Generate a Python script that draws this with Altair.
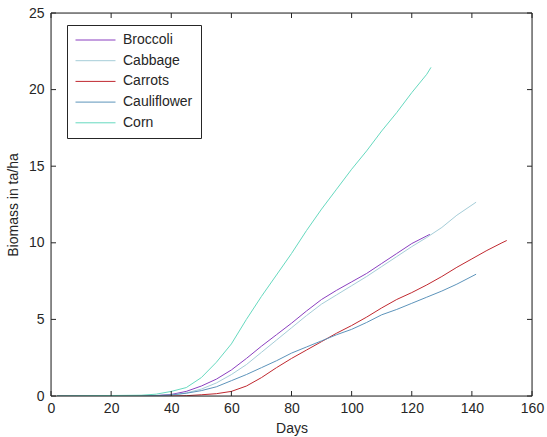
import altair as alt
import pandas as pd

series_names = ["Broccoli", "Cabbage", "Carrots", "Cauliflower", "Corn"]
series_colors = ["#8a3fc0", "#a5cdd8", "#c0282f", "#5d94bb", "#66d9bf"]

broccoli_days = [2, 30, 35, 40, 45, 50, 55, 60, 65, 70, 75, 80, 85, 90, 95, 100, 105, 110, 115, 120, 125, 126]
broccoli_vals = [0, 0.0, 0.03, 0.1, 0.3, 0.65, 1.1, 1.7, 2.45, 3.25, 4.0, 4.75, 5.55, 6.3, 6.9, 7.45, 8.0, 8.65, 9.3, 9.95, 10.45, 10.55]

cabbage_days = [2, 30, 35, 40, 45, 50, 55, 60, 65, 70, 75, 80, 85, 90, 95, 100, 105, 110, 115, 120, 125, 130, 135, 141.4]
cabbage_vals = [0, 0.0, 0.02, 0.06, 0.2, 0.45, 0.85, 1.4, 2.05, 2.85, 3.65, 4.45, 5.25, 6.0, 6.6, 7.2, 7.8, 8.45, 9.1, 9.75, 10.35, 11.0, 11.8, 12.65]

carrots_days = [2, 40, 45, 50, 55, 60, 65, 70, 75, 80, 85, 90, 95, 100, 105, 110, 115, 120, 125, 130, 135, 140, 145, 150, 151.6]
carrots_vals = [0, 0.0, 0.02, 0.08, 0.15, 0.3, 0.65, 1.2, 1.85, 2.45, 3.0, 3.55, 4.1, 4.6, 5.15, 5.75, 6.3, 6.75, 7.25, 7.8, 8.4, 8.95, 9.5, 10.0, 10.15]

cauliflower_days = [2, 35, 40, 45, 50, 55, 60, 65, 70, 75, 80, 85, 90, 95, 100, 105, 110, 115, 120, 125, 130, 135, 141.4]
cauliflower_vals = [0, 0.02, 0.07, 0.18, 0.35, 0.6, 1.0, 1.4, 1.85, 2.3, 2.8, 3.2, 3.6, 4.0, 4.35, 4.8, 5.3, 5.65, 6.05, 6.45, 6.85, 7.3, 7.95]

corn_days = [2, 30, 35, 40, 45, 50, 55, 60, 65, 70, 75, 80, 85, 90, 95, 100, 105, 110, 115, 120, 125, 126.4]
corn_vals = [0, 0.05, 0.12, 0.3, 0.55, 1.2, 2.2, 3.4, 5.0, 6.5, 7.9, 9.3, 10.8, 12.2, 13.5, 14.8, 16.0, 17.3, 18.5, 19.8, 21.0, 21.45]

x_ticks = [0, 20, 40, 60, 80, 100, 120, 140, 160]
y_ticks = [0, 5, 10, 15, 20, 25]

rows = []
for name, days, vals in [
    ("Broccoli", broccoli_days, broccoli_vals),
    ("Cabbage", cabbage_days, cabbage_vals),
    ("Carrots", carrots_days, carrots_vals),
    ("Cauliflower", cauliflower_days, cauliflower_vals),
    ("Corn", corn_days, corn_vals),
]:
    for i, (d, v) in enumerate(zip(days, vals)):
        rows.append({"series": name, "day": d, "value": v, "idx": i})
df = pd.DataFrame(rows)

W, H = 481, 383
FONT = "Liberation Sans"
TXT = "#262626"

xscale = alt.Scale(domain=[0, 160], nice=False, zero=False)
yscale = alt.Scale(domain=[0, 25], nice=False, zero=False)

lines = alt.Chart(df).mark_line(strokeWidth=1, clip=True).encode(
    x=alt.X("day:Q", scale=xscale, title="Days",
            axis=alt.Axis(values=x_ticks, tickSize=0, domain=False, grid=False,
                          labelFlush=False, labelFontSize=14, labelFont=FONT,
                          labelColor=TXT, labelPadding=5, titleFontSize=14,
                          titleFont=FONT, titleColor=TXT, titleFontWeight="normal",
                          titlePadding=6)),
    y=alt.Y("value:Q", scale=yscale, title="Biomass in ta/ha",
            axis=alt.Axis(values=y_ticks, tickSize=0, domain=False, grid=False,
                          labelFlush=False, labelFontSize=14, labelFont=FONT,
                          labelColor=TXT, labelPadding=7, titleFontSize=14,
                          titleFont=FONT, titleColor=TXT, titleFontWeight="normal",
                          titlePadding=8)),
    color=alt.Color("series:N", scale=alt.Scale(domain=series_names, range=series_colors),
                    legend=alt.Legend(orient="none", legendX=16, legendY=12, title=None,
                                      symbolType="stroke", symbolSize=1600,
                                      symbolStrokeWidth=1, labelFontSize=14,
                                      labelFont=FONT, labelColor=TXT, labelOffset=7,
                                      strokeColor="#262626", fillColor="white",
                                      padding=8, rowPadding=6.7, clipHeight=14)),
    order=alt.Order("idx:Q"),
)

xt = pd.DataFrame({"t": x_ticks})
yt = pd.DataFrame({"t": y_ticks})

bottom_ticks = alt.Chart(xt).mark_rule(color=TXT, strokeWidth=1).encode(
    x=alt.X("t:Q", scale=xscale), y=alt.value(H), y2=alt.value(H - 5))
top_ticks = alt.Chart(xt).mark_rule(color=TXT, strokeWidth=1).encode(
    x=alt.X("t:Q", scale=xscale), y=alt.value(0), y2=alt.value(5))
left_ticks = alt.Chart(yt).mark_rule(color=TXT, strokeWidth=1).encode(
    y=alt.Y("t:Q", scale=yscale), x=alt.value(0), x2=alt.value(5))
right_ticks = alt.Chart(yt).mark_rule(color=TXT, strokeWidth=1).encode(
    y=alt.Y("t:Q", scale=yscale), x=alt.value(W), x2=alt.value(W - 5))

frame_df = pd.DataFrame({"k": [0]})
frame = alt.Chart(frame_df).mark_rect(fill=None, stroke=TXT, strokeWidth=1).encode(
    x=alt.value(0), x2=alt.value(W), y=alt.value(0), y2=alt.value(H))

chart = alt.layer(lines, bottom_ticks, top_ticks, left_ticks, right_ticks, frame).properties(
    width=W, height=H,
    autosize=alt.AutoSizeParams(type="none"),
    padding={"left": 51, "top": 13, "right": 15, "bottom": 41},
).configure_view(strokeWidth=0).configure(background="white")

chart.save("out.html", embed_options={"renderer": "svg", "actions": False})
